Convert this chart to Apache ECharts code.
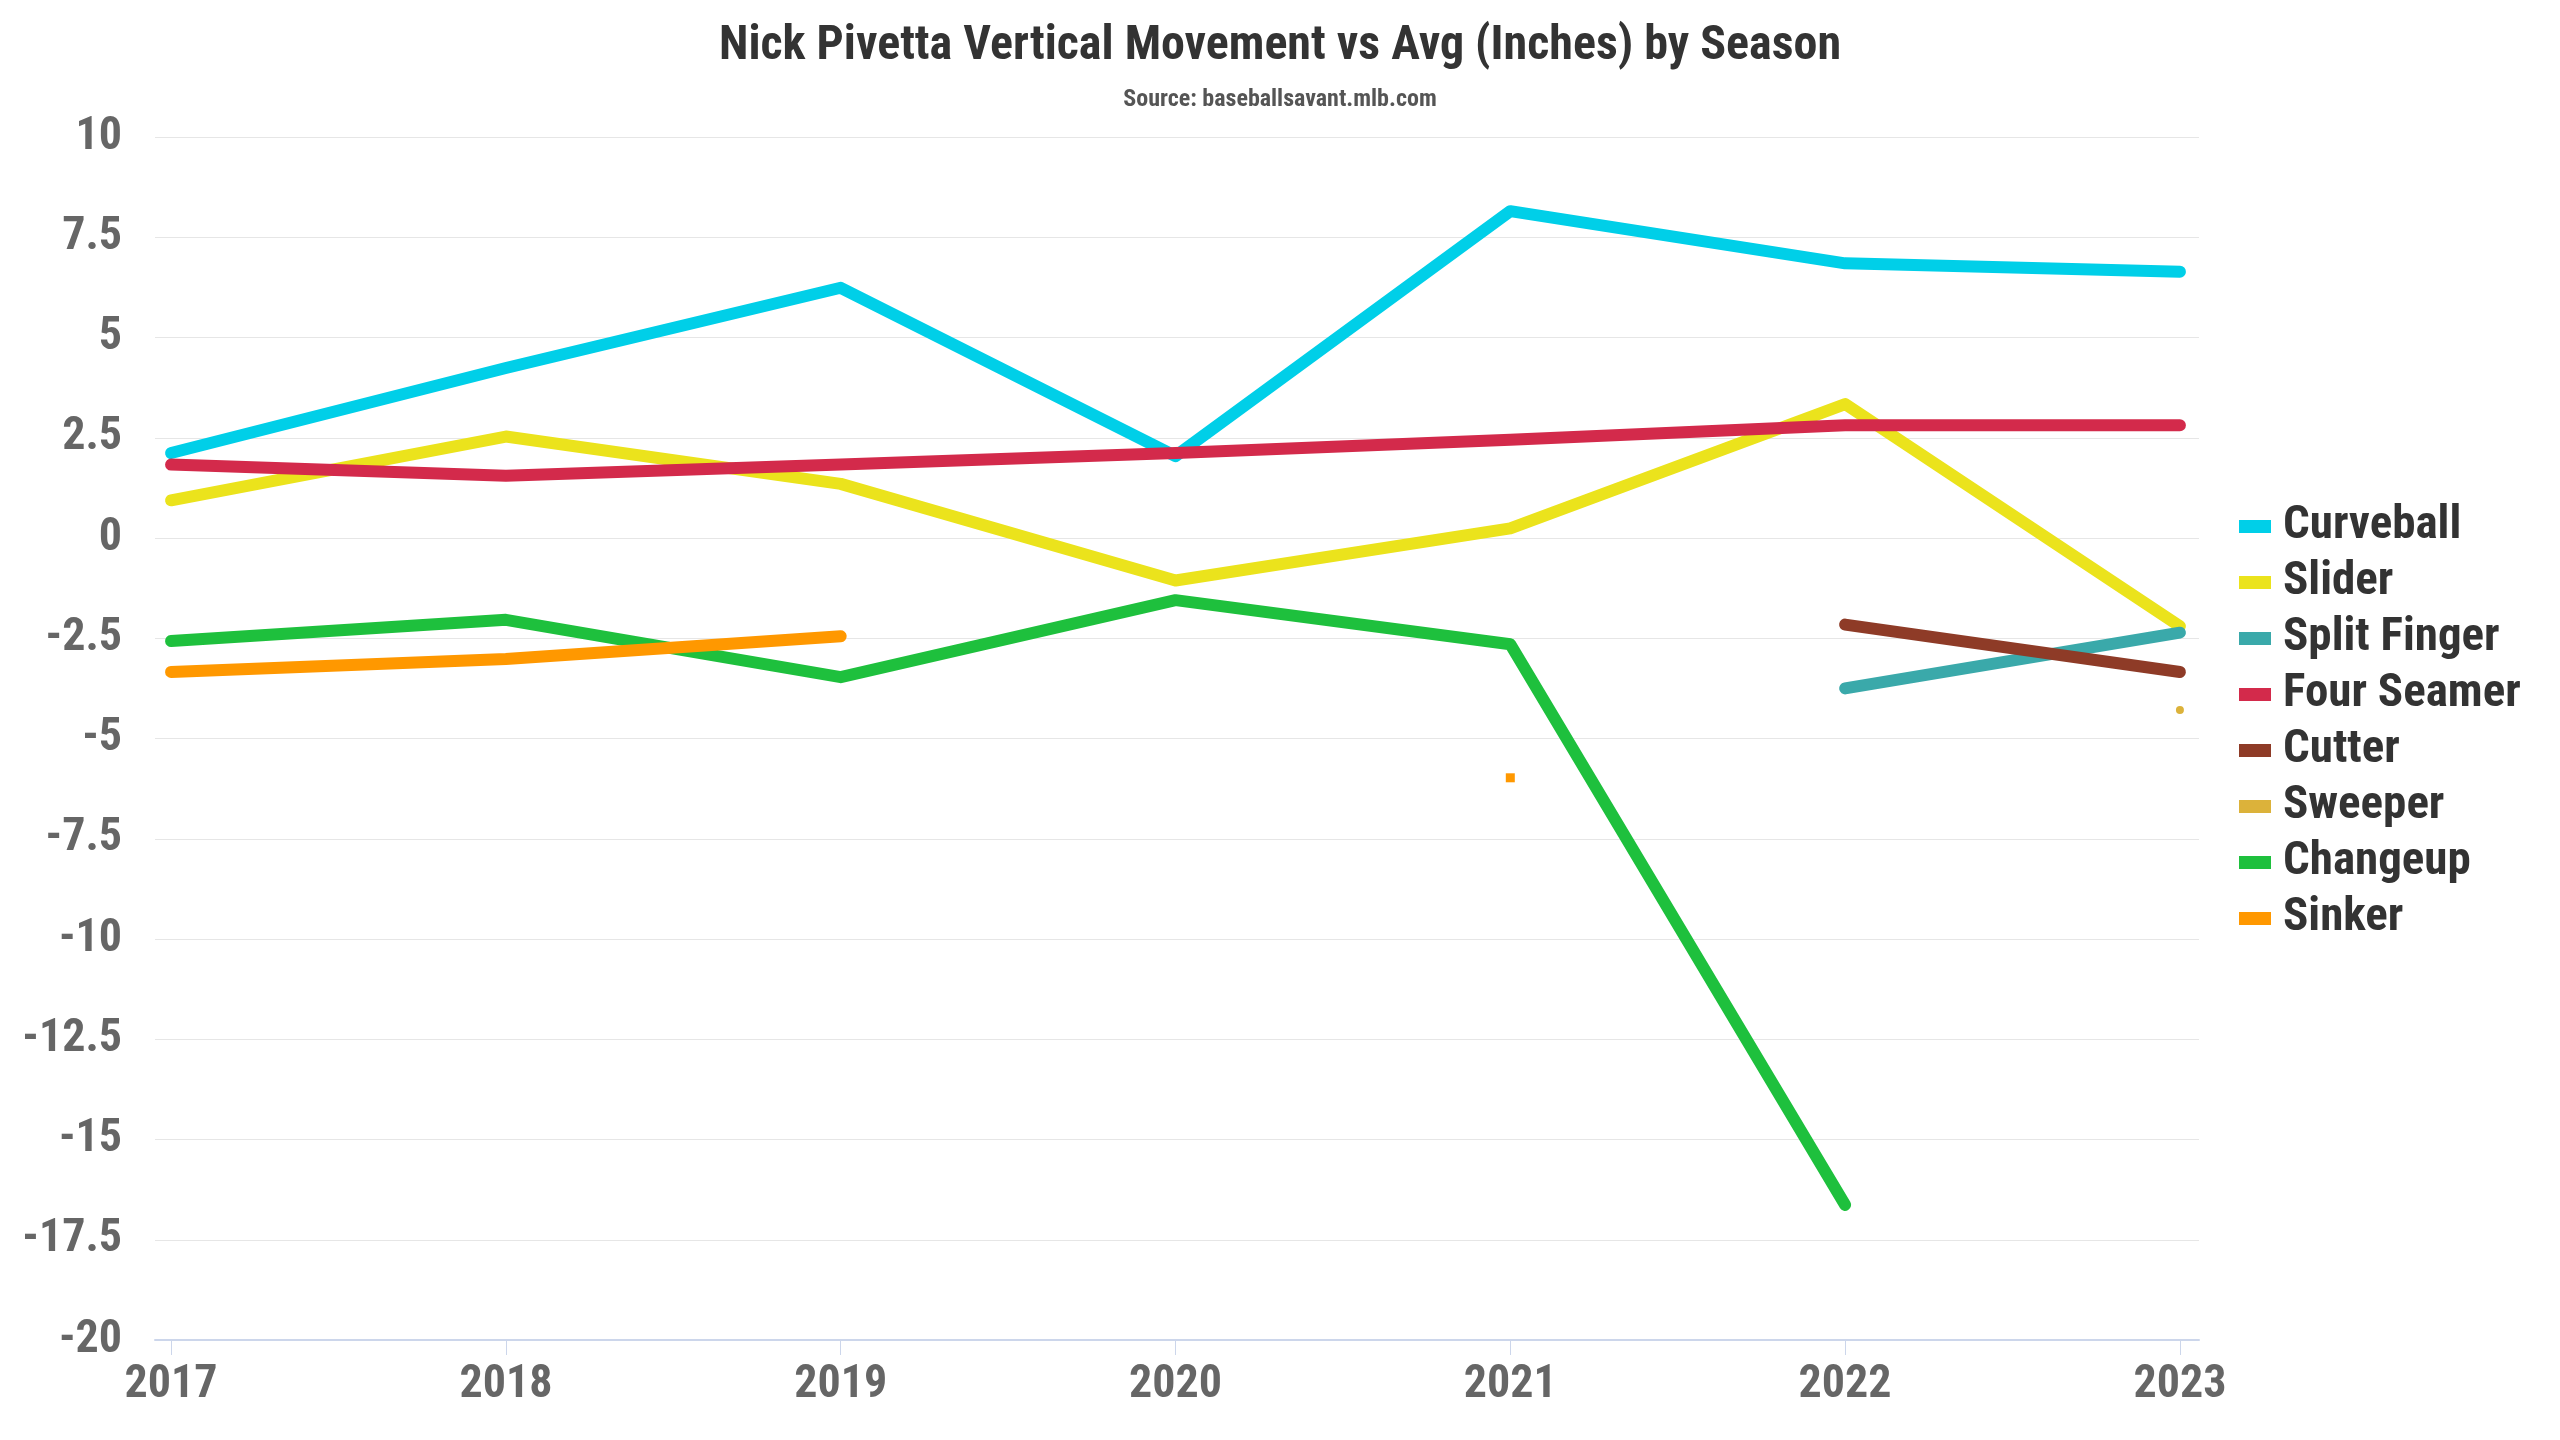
<!DOCTYPE html>
<html>
<head>
<meta charset="utf-8">
<style>html,body{margin:0;padding:0;background:#fff}#c{width:2560px;height:1440px}</style>
<script src="https://cdn.jsdelivr.net/npm/echarts@6/dist/echarts.min.js"></script>
</head>
<body>
<div id="c"></div>
<script>
const years = [2017, 2018, 2019, 2020, 2021, 2022, 2023];
const yTicks = [-20, -17.5, -15, -12.5, -10, -7.5, -5, -2.5, 0, 2.5, 5, 7.5, 10];
const curveball   = [2.12, 4.24, 6.24, 2.04, 8.15, 6.85, 6.64];
const slider      = [0.94, 2.53, 1.35, -1.06, 0.24, 3.34, -2.2];
const splitFinger = [null, null, null, null, null, -3.75, -2.36];
const fourSeamer  = [1.83, 1.55, 1.83, 2.12, 2.45, 2.81, 2.81];
const cutter      = [null, null, null, null, null, -2.16, -3.34];
const sweeper     = [null, null, null, null, null, null, -4.29];
const changeup    = [-2.57, -2.04, -3.47, -1.55, -2.65, -16.63, null];
const sinker      = [-3.34, -3.02, -2.45, null, -5.98, null, null];

const FONT = "'Roboto Condensed', 'Liberation Sans Narrow', 'DejaVu Sans Condensed', Roboto, sans-serif";

function toData(vals, isoSymbol) {
  return years.map((y, i) => {
    const v = vals[i];
    const prev = i > 0 ? vals[i - 1] : null;
    const next = i < vals.length - 1 ? vals[i + 1] : null;
    if (v != null && prev == null && next == null) {
      return { value: [y, v], symbol: isoSymbol, symbolSize: isoSymbol === 'rect' ? 9 : 8 };
    }
    return { value: [y, v] };
  });
}

const defs = [
  ['Curveball', curveball, '#00cfe8', 'circle'],
  ['Slider', slider, '#ebe31c', 'circle'],
  ['Split Finger', splitFinger, '#3aa9aa', 'circle'],
  ['Four Seamer', fourSeamer, '#d32a4b', 'circle'],
  ['Cutter', cutter, '#8e3b27', 'circle'],
  ['Sweeper', sweeper, '#dcb23a', 'circle'],
  ['Changeup', changeup, '#1ec03d', 'circle'],
  ['Sinker', sinker, '#ff9800', 'rect']
];

const series = defs.map(([name, vals, color, iso]) => ({
  name: name,
  type: 'line',
  data: toData(vals, iso),
  color: color,
  symbol: 'none',
  showSymbol: true,
  connectNulls: false,
  lineStyle: { width: 12, color: color, cap: 'round', join: 'round' },
  itemStyle: { color: color },
  emphasis: { disabled: true },
  animation: false
}));

const chart = echarts.init(document.getElementById('c'));
chart.setOption({
  backgroundColor: '#fff',
  animation: false,
  title: [
    { text: 'Nick Pivetta Vertical Movement vs Avg (Inches) by Season', left: 'center', top: 18,
      textStyle: { fontFamily: FONT, fontWeight: 'bold', fontSize: 48, color: '#333' } },
    { text: 'Source: baseballsavant.mlb.com', left: 'center', top: 83,
      textStyle: { fontFamily: FONT, fontWeight: 'bold', fontSize: 24, color: '#555' } }
  ],
  legend: {
    orient: 'vertical', left: 2234, top: 498,
    itemWidth: 32, itemHeight: 13, itemGap: 9,
    icon: 'rect',
    data: defs.map(d => d[0]),
    textStyle: { fontFamily: FONT, fontWeight: 'bold', fontSize: 47, color: '#333', lineHeight: 47, padding: [0, 0, 0, 7] }
  },
  grid: { left: 155, right: 2560 - 2199, top: 137, bottom: 1440 - 1340, containLabel: false },
  xAxis: {
    type: 'value', min: 2016.952, max: 2023.057,
    splitLine: { show: false },
    axisLine: { show: true, onZero: false, lineStyle: { color: '#ccd6eb', width: 2 } },
    axisTick: { show: true, customValues: years, length: 15, lineStyle: { color: '#ccd6eb', width: 1 } },
    axisLabel: { customValues: years, formatter: v => String(v), margin: 22,
      fontFamily: FONT, fontWeight: 'bold', fontSize: 46, color: '#666' }
  },
  yAxis: {
    type: 'value', min: -20, max: 10, interval: 2.5,
    axisLine: { show: false }, axisTick: { show: false },
    splitLine: { lineStyle: { color: '#e6e6e6', width: 1 } },
    axisLabel: { margin: 33, formatter: v => String(v),
      fontFamily: FONT, fontWeight: 'bold', fontSize: 46, color: '#666' }
  },
  series: series
});
</script>
</body>
</html>
